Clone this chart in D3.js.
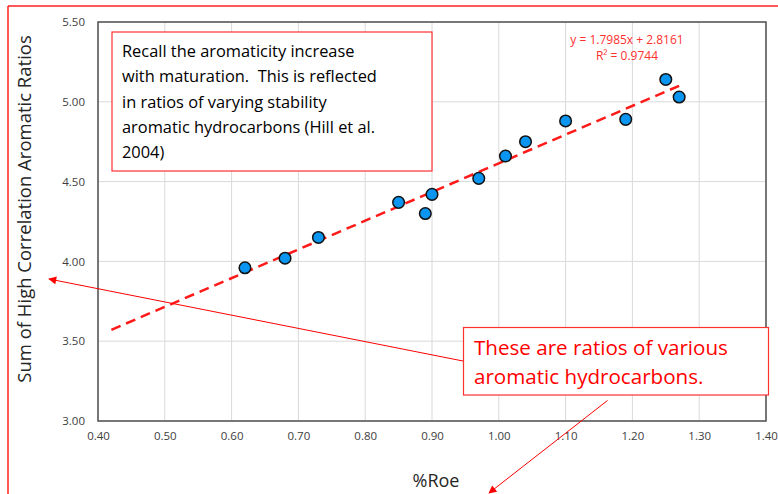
<!DOCTYPE html>
<html><head><meta charset="utf-8">
<script src="https://cdn.jsdelivr.net/npm/d3@7"></script>
<style>body{margin:0;background:#fff}svg{display:block}text{white-space:pre}</style>
</head><body>
<svg id="c" width="778" height="494"></svg>
<script>
const roe = [0.62, 0.68, 0.73, 0.85, 0.89, 0.90, 0.97, 1.01, 1.04, 1.10, 1.19, 1.25, 1.27];
const ratio = [3.96, 4.02, 4.15, 4.37, 4.30, 4.42, 4.52, 4.66, 4.75, 4.88, 4.89, 5.14, 5.03];
const xTicks = [0.40, 0.50, 0.60, 0.70, 0.80, 0.90, 1.00, 1.10, 1.20, 1.30, 1.40];
const yTicks = [3.00, 3.50, 4.00, 4.50, 5.00, 5.50];
const slope = 1.7985, intercept = 2.8161, r2 = 0.9744;
const trendX = [0.42, 1.27];
const note1 = ["Recall the aromaticity increase", "with maturation.  This is reflected", "in ratios of varying stability", "aromatic hydrocarbons (Hill et al.", "2004)"];
const note2 = ["These are ratios of various", "aromatic hydrocarbons."];

const svg = d3.select("#c");
const L = 98, R = 766, T = 22, B = 421;
const x = d3.scaleLinear().domain([0.4, 1.4]).range([L, R]);
const y = d3.scaleLinear().domain([3.0, 5.5]).range([B, T]);
const font = "Open Sans, Noto Sans, sans-serif";

// outer frame
svg.append("line").attr("x1", 8).attr("y1", 6).attr("x2", 778).attr("y2", 6).attr("stroke", "#ff2020").attr("stroke-width", 1.5);
svg.append("line").attr("x1", 8).attr("y1", 6).attr("x2", 8).attr("y2", 494).attr("stroke", "#ff2020").attr("stroke-width", 1.5);

// gridlines
svg.append("g").selectAll("line").data(xTicks).join("line")
  .attr("x1", d => x(d)).attr("x2", d => x(d)).attr("y1", T).attr("y2", B)
  .attr("stroke", "#d9d9d9").attr("stroke-width", 1);
svg.append("g").selectAll("line").data(yTicks).join("line")
  .attr("y1", d => y(d)).attr("y2", d => y(d)).attr("x1", L).attr("x2", R)
  .attr("stroke", "#d9d9d9").attr("stroke-width", 1);

// axes
const xAxis = d3.axisBottom(x).tickValues(xTicks).tickFormat(d3.format(".2f")).tickSize(0).tickPadding(11);
const yAxis = d3.axisLeft(y).tickValues(yTicks).tickFormat(d3.format(".2f")).tickSize(0).tickPadding(13);
const gx = svg.append("g").attr("transform", `translate(0,${B})`).call(xAxis);
const gy = svg.append("g").attr("transform", `translate(${L},0)`).call(yAxis);
[gx, gy].forEach(g => {
  g.select(".domain").remove();
  g.selectAll("text").attr("font-family", font).attr("font-size", 11.5).attr("fill", "#404040");
});

// plot border
svg.append("rect").attr("x", L).attr("y", T).attr("width", R - L).attr("height", B - T)
  .attr("fill", "none").attr("stroke", "#505050").attr("stroke-width", 1.5);

// trendline
svg.append("line")
  .attr("x1", x(trendX[0])).attr("y1", y(slope * trendX[0] + intercept))
  .attr("x2", x(trendX[1])).attr("y2", y(slope * trendX[1] + intercept))
  .attr("stroke", "#ff1a1a").attr("stroke-width", 2.5).attr("stroke-dasharray", "10,6");

// points
svg.append("g").selectAll("circle").data(roe.map((d, i) => [d, ratio[i]])).join("circle")
  .attr("cx", d => x(d[0])).attr("cy", d => y(d[1])).attr("r", 5.8)
  .attr("fill", "#0a96f0").attr("stroke", "#111").attr("stroke-width", 1.5);

// equation
svg.append("text").attr("x", 627).attr("y", 44).attr("text-anchor", "middle")
  .attr("font-family", font).attr("font-size", 12).attr("fill", "#ff3030")
  .text(`y = ${slope}x + ${intercept}`);
svg.append("text").attr("x", 627).attr("y", 60).attr("text-anchor", "middle")
  .attr("font-family", font).attr("font-size", 12).attr("fill", "#ff3030")
  .text(`R\u00B2 = ${r2}`);

// axis titles
svg.append("text").attr("x", 436).attr("y", 487).attr("text-anchor", "middle")
  .attr("font-family", font).attr("font-size", 18).attr("fill", "#262626").text("%Roe");
svg.append("text").attr("transform", "translate(31,209) rotate(-90)").attr("text-anchor", "middle")
  .attr("font-family", font).attr("font-size", 18.5).attr("fill", "#262626").text("Sum of High Correlation Aromatic Ratios");

// note box 1
svg.append("rect").attr("x", 112).attr("y", 32).attr("width", 320).attr("height", 139)
  .attr("fill", "#fff").attr("stroke", "#ff3030").attr("stroke-width", 1.2);
svg.append("g").selectAll("text").data(note1).join("text")
  .attr("x", 122).attr("y", (d, i) => 57 + i * 25.3)
  .attr("font-family", font).attr("font-size", 16.4).attr("fill", "#000").text(d => d);

// note box 2
svg.append("rect").attr("x", 463.5).attr("y", 327.5).attr("width", 305).attr("height", 67.5)
  .attr("fill", "#fff").attr("stroke", "#ff3030").attr("stroke-width", 1.2);
svg.append("g").selectAll("text").data(note2).join("text")
  .attr("x", 474).attr("y", (d, i) => 355 + i * 28.5)
  .attr("font-family", font).attr("font-size", 20.6).attr("fill", "#ff0000").text(d => d);

// arrows
const defs = svg.append("defs");
defs.append("marker").attr("id", "ah").attr("viewBox", "0 0 10 10").attr("refX", 9).attr("refY", 5)
  .attr("markerWidth", 10).attr("markerHeight", 8).attr("markerUnits", "userSpaceOnUse").attr("orient", "auto")
  .append("path").attr("d", "M0,0L10,5L0,10Z").attr("fill", "#ff0000");
svg.append("line").attr("x1", 463).attr("y1", 361).attr("x2", 49).attr("y2", 279)
  .attr("stroke", "#ff0000").attr("stroke-width", 1).attr("marker-end", "url(#ah)");
svg.append("line").attr("x1", 607.5).attr("y1", 400.5).attr("x2", 489).attr("y2", 493)
  .attr("stroke", "#ff0000").attr("stroke-width", 1).attr("marker-end", "url(#ah)");
</script>
</body></html>
